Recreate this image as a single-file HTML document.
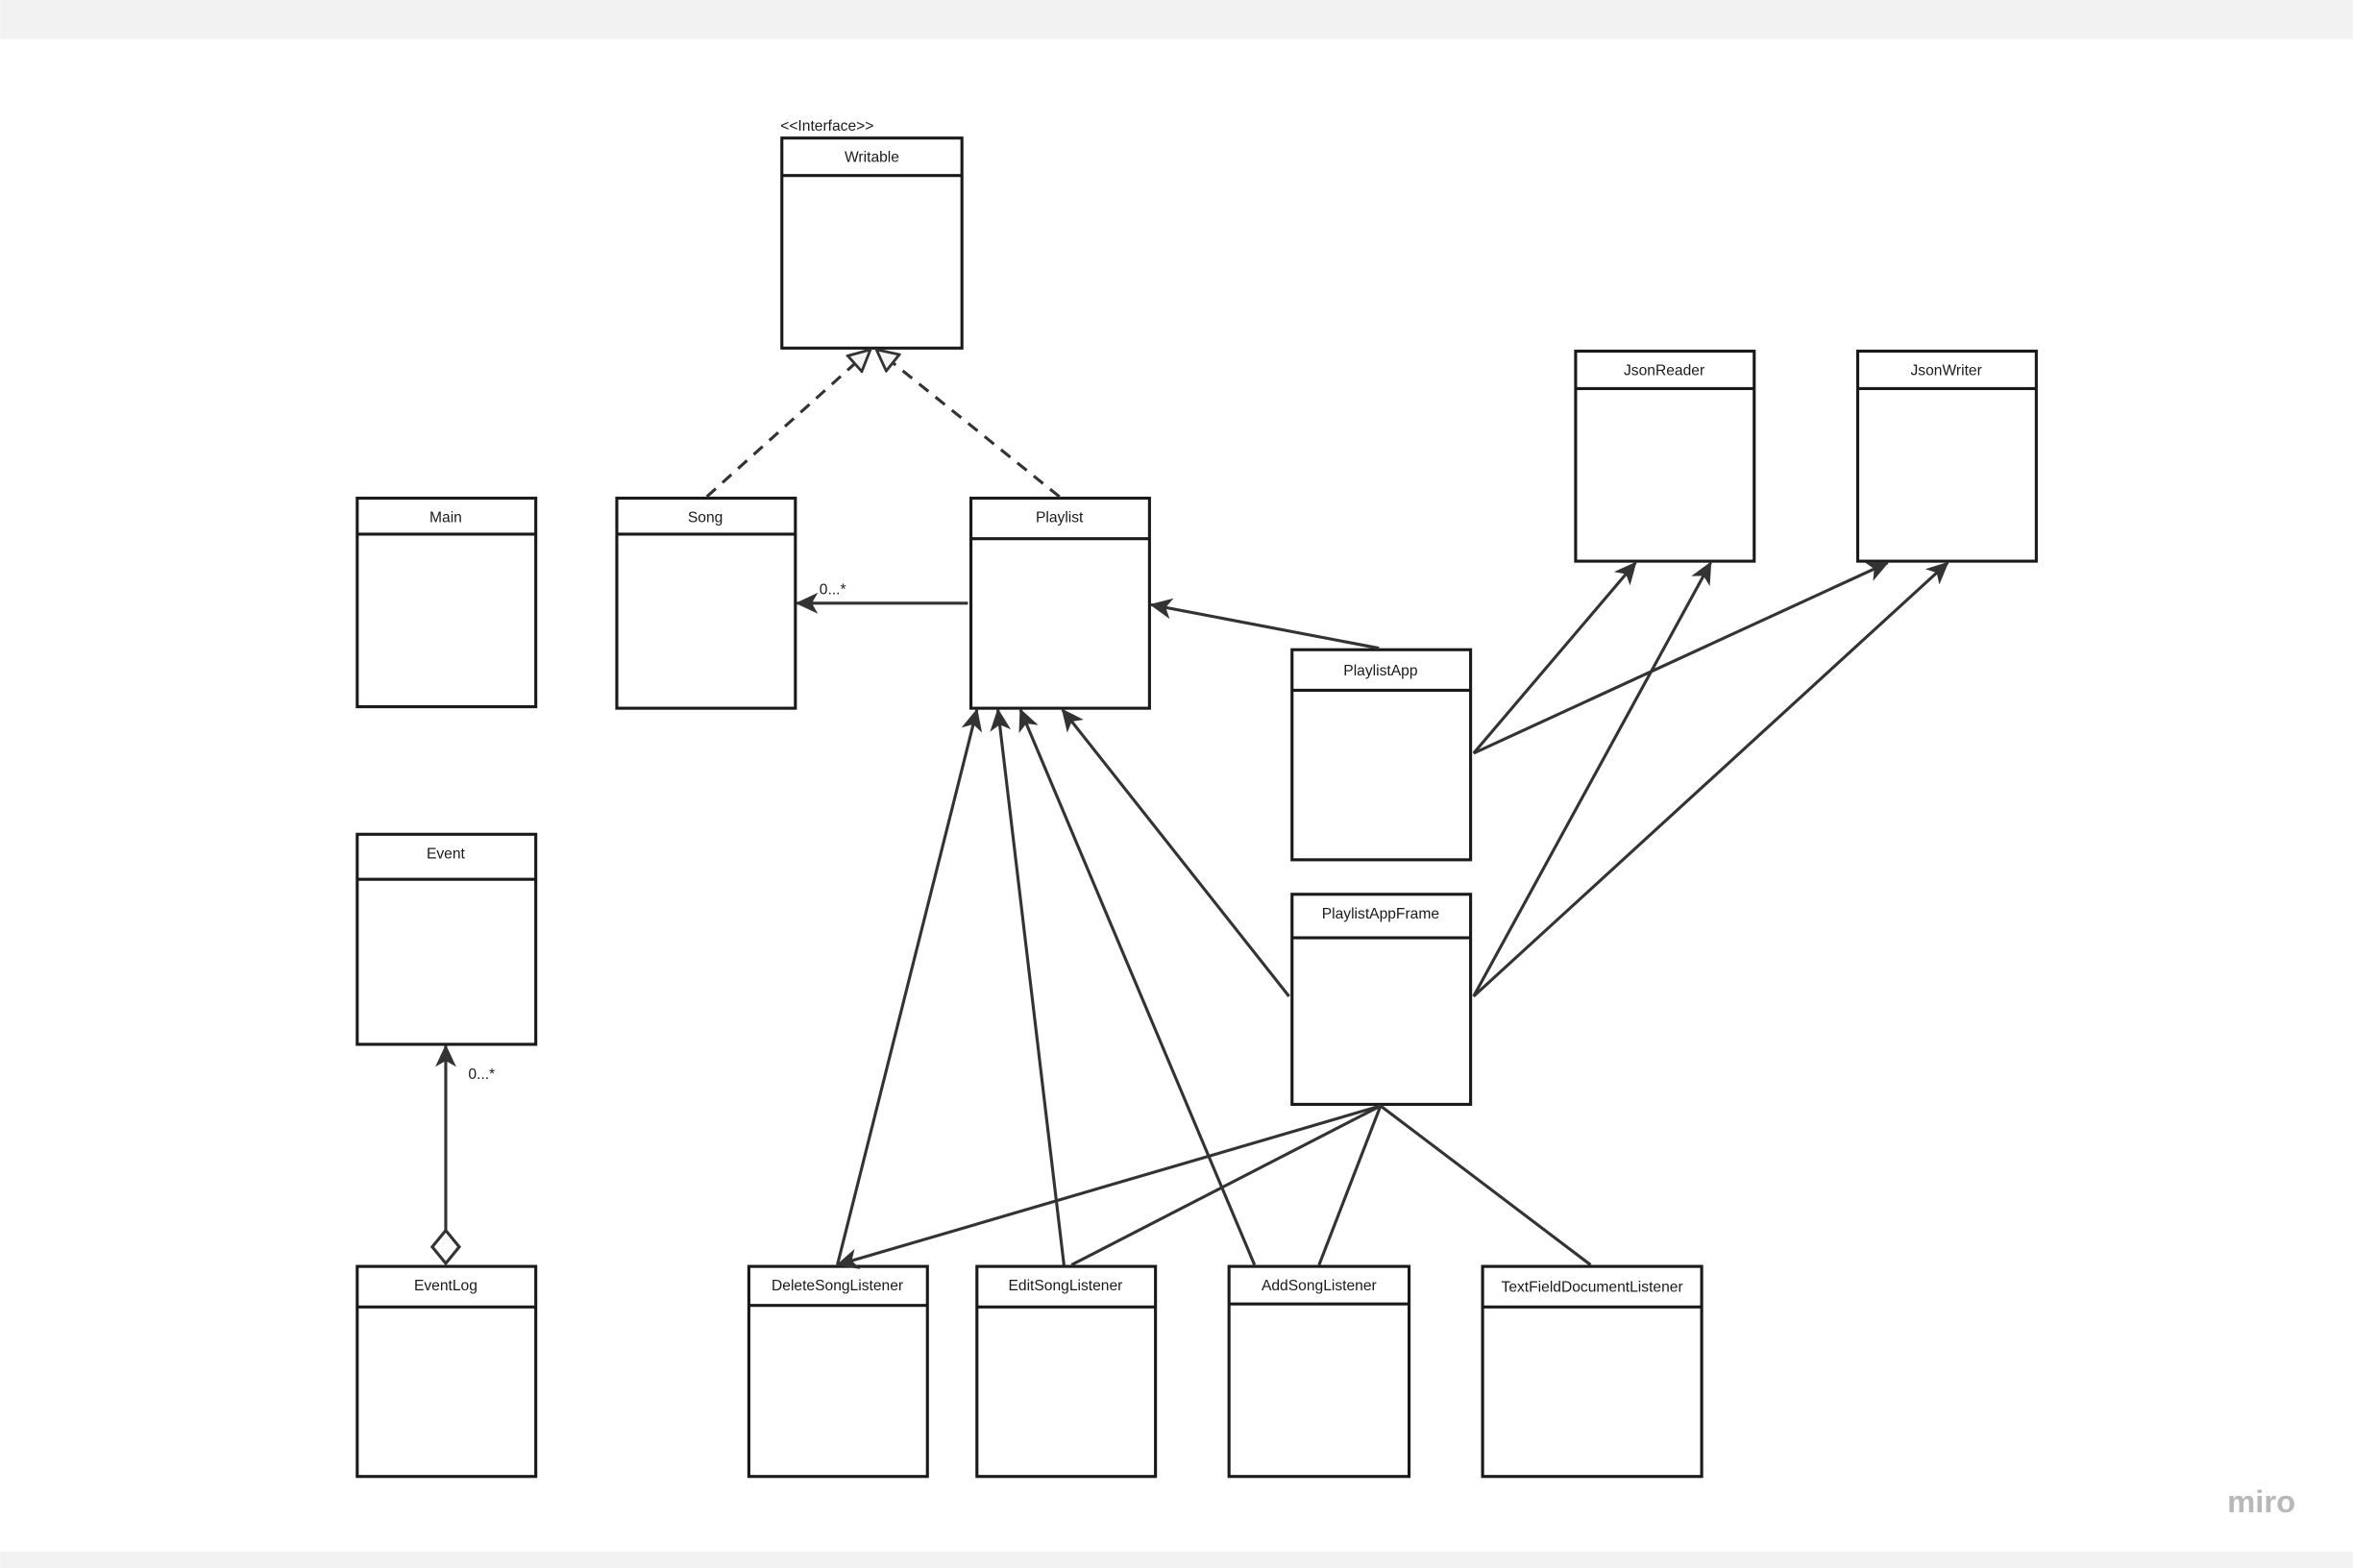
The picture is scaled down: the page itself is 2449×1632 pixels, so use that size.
<!DOCTYPE html>
<html><head><meta charset="utf-8"><style>
html,body{margin:0;padding:0;background:#fff;}
svg{display:block;}
text{font-family:"Liberation Sans",sans-serif;fill:#1a1a1a;}
</style></head><body>
<svg width="2449" height="1632" viewBox="0 0 1568 1045" xmlns="http://www.w3.org/2000/svg">
<defs>
<marker id="a" viewBox="0 0 15 14" refX="14" refY="7" markerWidth="15" markerHeight="14" markerUnits="userSpaceOnUse" orient="auto">
<path d="M0,0 L15,7 L0,14 L4,7 Z" fill="#333"/>
</marker>
<marker id="t" viewBox="0 0 16 16" refX="15" refY="8" markerWidth="16" markerHeight="16" markerUnits="userSpaceOnUse" orient="auto">
<path d="M1,1 L15,8 L1,15 Z" fill="#f4f4f4" stroke="#333" stroke-width="1.8"/>
</marker>
</defs>
<rect x="0" y="0" width="1568" height="26" fill="#f2f2f2"/>
<rect x="0" y="1034" width="1568" height="11" fill="#f2f2f2"/>
<g fill="none" stroke="#1a1a1a" stroke-width="2">
<rect x="521" y="92" width="120" height="140"/><line x1="521" y1="117" x2="641" y2="117"/>
<rect x="238" y="332" width="119" height="139"/><line x1="238" y1="356" x2="357" y2="356"/>
<rect x="411" y="332" width="119" height="140"/><line x1="411" y1="356" x2="530" y2="356"/>
<rect x="647" y="332" width="119" height="140"/><line x1="647" y1="359" x2="766" y2="359"/>
<rect x="1050" y="234" width="119" height="140"/><line x1="1050" y1="259" x2="1169" y2="259"/>
<rect x="1238" y="234" width="119" height="140"/><line x1="1238" y1="259" x2="1357" y2="259"/>
<rect x="861" y="433" width="119" height="140"/><line x1="861" y1="460" x2="980" y2="460"/>
<rect x="861" y="596" width="119" height="140"/><line x1="861" y1="625" x2="980" y2="625"/>
<rect x="238" y="556" width="119" height="140"/><line x1="238" y1="586" x2="357" y2="586"/>
<rect x="238" y="844" width="119" height="140"/><line x1="238" y1="871" x2="357" y2="871"/>
<rect x="499" y="844" width="119" height="140"/><line x1="499" y1="870" x2="618" y2="870"/>
<rect x="651" y="844" width="119" height="140"/><line x1="651" y1="871" x2="770" y2="871"/>
<rect x="819" y="844" width="120" height="140"/><line x1="819" y1="869" x2="939" y2="869"/>
<rect x="988" y="844" width="146" height="140"/><line x1="988" y1="871" x2="1134" y2="871"/>
</g>
<g font-size="10" text-anchor="middle">
<text x="581" y="108">Writable</text>
<text x="297" y="348">Main</text>
<text x="470" y="348">Song</text>
<text x="706" y="348">Playlist</text>
<text x="1109" y="250">JsonReader</text>
<text x="1297" y="250">JsonWriter</text>
<text x="920" y="450">PlaylistApp</text>
<text x="920" y="612">PlaylistAppFrame</text>
<text x="297" y="572">Event</text>
<text x="297" y="860">EventLog</text>
<text x="558" y="860">DeleteSongListener</text>
<text x="710" y="860">EditSongListener</text>
<text x="879" y="860">AddSongListener</text>
<text x="1061" y="861">TextFieldDocumentListener</text>
</g>
<g font-size="10">
<text x="520" y="87">&lt;&lt;Interface&gt;&gt;</text>
<text x="546" y="396">0...*</text>
<text x="312" y="719">0...*</text>
</g>
<g fill="none" stroke="#333" stroke-width="2">
<line x1="471" y1="331" x2="580" y2="233" stroke-dasharray="8,6" marker-end="url(#t)"/>
<line x1="706" y1="331" x2="584" y2="233" stroke-dasharray="8,6" marker-end="url(#t)"/>
<line x1="645" y1="402" x2="531" y2="402" marker-end="url(#a)"/>
<line x1="919" y1="432" x2="767" y2="403" marker-end="url(#a)"/>
<line x1="982" y1="502" x2="1090" y2="375" marker-end="url(#a)"/>
<line x1="982" y1="502" x2="1258" y2="375" marker-end="url(#a)"/>
<line x1="982" y1="664" x2="1140" y2="375" marker-end="url(#a)"/>
<line x1="982" y1="664" x2="1298" y2="375" marker-end="url(#a)"/>
<line x1="859" y1="664" x2="708" y2="473" marker-end="url(#a)"/>
<line x1="558" y1="843" x2="651" y2="473" marker-end="url(#a)"/>
<line x1="709" y1="843" x2="665" y2="473" marker-end="url(#a)"/>
<line x1="836" y1="843" x2="680" y2="473" marker-end="url(#a)"/>
<line x1="920" y1="737" x2="558" y2="843" marker-end="url(#a)"/>
<line x1="920" y1="737" x2="714" y2="843"/>
<line x1="920" y1="737" x2="879" y2="843"/>
<line x1="920" y1="737" x2="1060" y2="843"/>
<line x1="297" y1="820" x2="297" y2="697" marker-end="url(#a)"/>
<path d="M297,820 L306,831 L297,842 L288,831 Z" fill="#fff"/>
</g>
<text x="1507" y="1008" font-size="21" text-anchor="middle" style="fill:#b8b8b8;font-weight:bold">miro</text>
</svg>
</body></html>
